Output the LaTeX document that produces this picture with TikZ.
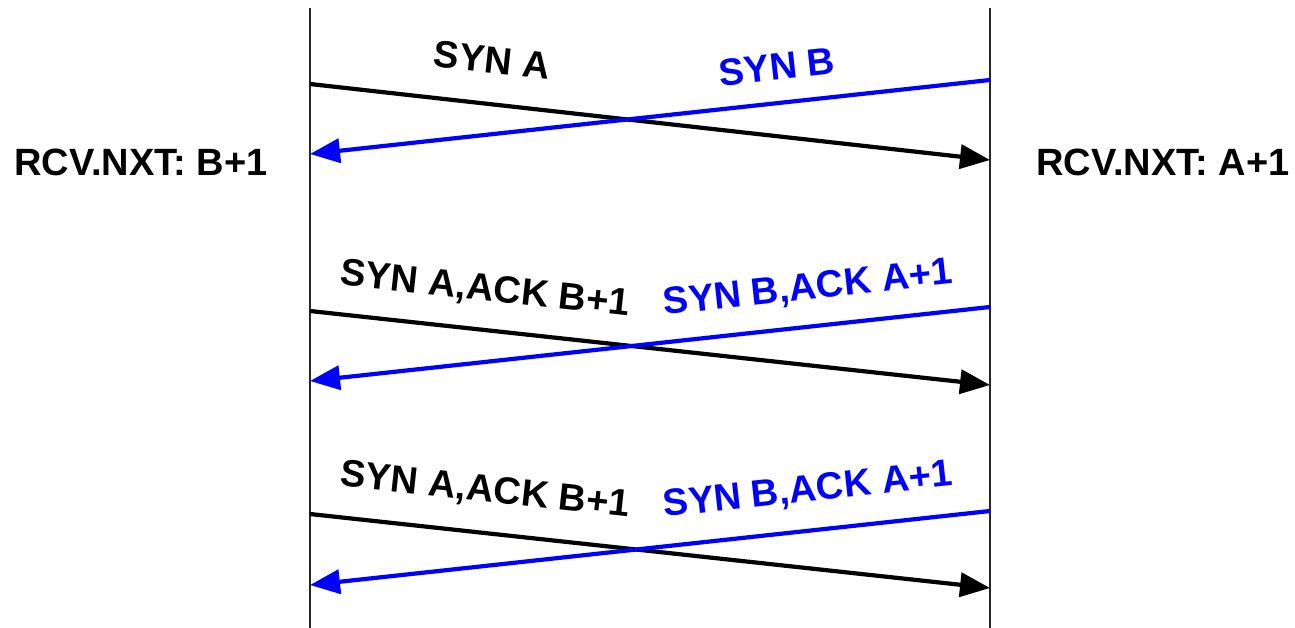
\documentclass[tikz,border=0pt]{standalone}
\usepackage{fontspec}
\setmainfont{Liberation Sans}
\usetikzlibrary{arrows.meta}
\definecolor{msgblue}{RGB}{0,0,255}
\tikzset{
  lifeline/.style={line width=1.6pt, black!85},
  msg/.style={line width=4.2pt, -{Triangle[length=30pt,width=24pt]}},
  lbl/.style={font=\fontsize{38}{42}\selectfont\bfseries, inner sep=0pt},
}
\begin{document}
\begin{tikzpicture}[x=1pt,y=-1pt]
\useasboundingbox (0,0) rectangle (1295,628);
% lifelines
\coordinate (Ltop) at (310,8);
\coordinate (Lbot) at (310,628);
\coordinate (Rtop) at (990,8);
\coordinate (Rbot) at (990,628);
\draw[lifeline] (Ltop) -- (Lbot);
\draw[lifeline] (Rtop) -- (Rbot);
% endpoints
\coordinate (a1) at (310,84);  \coordinate (a1e) at (990,160);
\coordinate (b1) at (990,80);  \coordinate (b1e) at (310,154);
\coordinate (a2) at (310,311); \coordinate (a2e) at (990,385);
\coordinate (b2) at (990,307); \coordinate (b2e) at (310,381);
\coordinate (a3) at (310,514); \coordinate (a3e) at (990,588);
\coordinate (b3) at (990,511); \coordinate (b3e) at (310,585);
% messages
\draw[msg, black] (a1) -- (a1e);
\draw[msg, msgblue] (b1) -- (b1e);
\draw[msg, black] (a2) -- (a2e);
\draw[msg, msgblue] (b2) -- (b2e);
\draw[msg, black] (a3) -- (a3e);
\draw[msg, msgblue] (b3) -- (b3e);
% labels
\node[lbl, rotate=-6.2] (la1) at (492,60) {SYN A};
\node[lbl, rotate=6.2, text=msgblue] (lb1) at (777,67) {SYN B};
\node[lbl, rotate=-6.2] (la2) at (485,290) {SYN A,ACK B+1};
\node[lbl, rotate=6.2, text=msgblue] (lb2) at (808,289) {SYN B,ACK A+1};
\node[lbl, rotate=-6.2] (la3) at (485,491) {SYN A,ACK B+1};
\node[lbl, rotate=6.2, text=msgblue] (lb3) at (808,491) {SYN B,ACK A+1};
\node[lbl] (rl) at (141,162) {RCV.NXT: B+1};
\node[lbl] (rr) at (1163,162) {RCV.NXT: A+1};
\end{tikzpicture}
\end{document}
